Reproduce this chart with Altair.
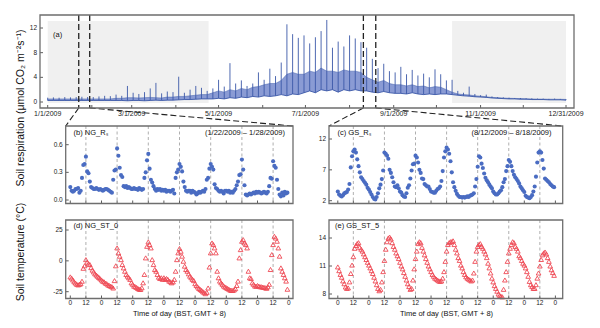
import altair as alt
import pandas as pd

W, H = 600, 328
FONT = "Liberation Sans"
TS = 3
FRAME = "#6e6e6e"
TICK = "#333333"
LABEL = "#222222"
BLUE_DOT = "#4a6cc2"
BLUE_LINE = "#3b58a8"
BLUE_BAND = "#7d90cf"
RED = "#ee4a55"

# ---------------- data: panel (a), annual soil respiration (4-day envelope) ----------------
a_day = list(range(0, 365, 4))
a_low = [0.25] * 12 + [0.25, 0.25, 0.2, 0.25, 0.25, 0.2, 0.25, 0.3, 0.25, 0.3, 0.3, 0.35, 0.4] + \
        [0.4, 0.45, 0.5, 0.5] + \
        [0.5, 0.6, 0.5, 0.7, 0.6, 0.8, 0.7, 0.9, 0.8, 1.0, 0.9, 1.0, 1.2, 1.0, 1.3, 1.2] + \
        [1.5, 1.8, 1.5, 2.0, 1.8, 2.0, 1.6, 2.0, 1.8, 2.0, 1.8] + \
        [1.8, 1.6, 1.5, 1.7, 1.5, 1.4] + \
        [1.4, 1.3, 1.5, 1.3, 1.2, 1.3, 1.2, 1.3, 1.3] + \
        [1.2, 1.1, 1.0, 0.95, 0.85] + \
        [0.8, 0.75, 0.65, 0.6, 0.55, 0.5, 0.5, 0.45, 0.45, 0.4, 0.4, 0.4, 0.35, 0.35, 0.35, 0.3]
a_mid = [0.5] * 12 + [0.6, 0.6, 0.7, 0.7, 0.65, 0.7, 0.75, 0.7, 0.65, 0.8, 0.8, 0.9, 0.9] + \
        [1.0, 1.1, 1.2, 1.2] + \
        [1.5, 1.8, 1.6, 2.0, 1.8, 2.2, 2.0, 2.4, 2.5, 2.8, 3.0, 3.0, 3.5, 4.5, 4.8, 4.5] + \
        [4.5, 5.0, 4.8, 5.5, 5.0, 5.0, 4.8, 5.2, 5.0, 5.0, 4.8] + \
        [4.0, 3.6, 3.2, 3.5, 3.0, 2.8] + \
        [2.8, 2.6, 2.8, 2.5, 2.6, 2.3, 2.5, 2.4, 2.0] + \
        [1.6, 1.3, 1.2, 1.15, 1.0] + \
        [0.95, 0.85, 0.75, 0.7, 0.65, 0.6, 0.58, 0.55, 0.52, 0.5, 0.48, 0.47, 0.45, 0.45, 0.44, 0.42]
a_high = [0.7, 0.75, 0.7, 0.8, 0.75, 0.8, 0.85, 0.8, 0.8, 0.9, 1.0, 0.95] + \
         [1.2, 1.0, 2.6, 1.5, 1.3, 1.6, 2.2, 3.1, 1.4, 1.7, 1.6, 4.1, 1.5] + \
         [2.0, 2.6, 2.3, 1.8] + \
         [2.2, 3.6, 2.5, 6.3, 3.0, 3.5, 2.6, 3.0, 4.8, 3.6, 5.4, 4.2, 6.4, 12.6, 11.0, 10.4] + \
         [10.8, 9.5, 10.5, 11.5, 13.3, 8.8, 9.8, 9.0, 10.8, 10.3, 9.7] + \
         [8.8, 7.0, 5.5, 6.2, 5.0, 4.8] + \
         [5.7, 4.5, 5.2, 4.3, 4.6, 4.0, 5.3, 4.5, 3.5] + \
         [3.6, 1.8, 1.5, 2.5, 1.3] + \
         [1.1, 1.2, 0.9, 0.8, 0.75, 0.7, 0.65, 0.65, 0.6, 0.6, 0.55, 0.55, 0.5, 0.55, 0.5, 0.45]
shade_start = [0, 284]
shade_end = [113, 364]
zoom_days = [21.8, 29.5, 221.7, 230.4]
month_days = [0, 31, 59, 90, 120, 151, 181, 212, 243, 273, 304, 334, 364]
month_labels = ["1/1/2009", "", "3/1/2009", "", "5/1/2009", "", "7/1/2009", "",
                "9/1/2009", "", "11/1/2009", "", "12/31/2009"]
a_yticks = [0, 4, 8, 12]

# ---------------- data: hourly panels (b)-(e), 7 days x 24 h ----------------
hours = list(range(168))
noon_hours = list(range(12, 168, 24))
hour_ticks = list(range(0, 169, 12))
hour_labels = ["0" if h % 24 == 0 else "12" for h in hour_ticks]

ng_rs = [0.14, 0.10, 0.09, 0.10, 0.12, 0.12, 0.13, 0.08, 0.10, 0.24, 0.38, 0.39, 0.47, 0.31, 0.29, 0.20, 0.14, 0.13, 0.12, 0.12, 0.13, 0.12, 0.11, 0.12] + \
        [0.11, 0.10, 0.11, 0.12, 0.12, 0.11, 0.10, 0.09, 0.08, 0.22, 0.32, 0.33, 0.56, 0.48, 0.35, 0.27, 0.25, 0.15, 0.14, 0.15, 0.13, 0.14, 0.13, 0.12] + \
        [0.12, 0.13, 0.12, 0.12, 0.11, 0.13, 0.12, 0.11, 0.12, 0.24, 0.30, 0.43, 0.50, 0.34, 0.22, 0.19, 0.15, 0.12, 0.10, 0.12, 0.11, 0.12, 0.10, 0.11] + \
        [0.10, 0.11, 0.09, 0.10, 0.10, 0.09, 0.10, 0.11, 0.07, 0.24, 0.30, 0.33, 0.39, 0.36, 0.31, 0.20, 0.14, 0.10, 0.09, 0.10, 0.10, 0.08, 0.10, 0.09] + \
        [0.08, 0.06, 0.07, 0.09, 0.08, 0.09, 0.10, 0.09, 0.12, 0.22, 0.24, 0.34, 0.39, 0.36, 0.33, 0.17, 0.13, 0.12, 0.10, 0.09, 0.10, 0.09, 0.07, 0.10] + \
        [0.10, 0.09, 0.10, 0.08, 0.09, 0.08, 0.10, 0.12, 0.16, 0.20, 0.27, 0.28, 0.44, 0.33, 0.16, 0.06, 0.05, 0.06, 0.07, 0.06, 0.07, 0.08, 0.07, 0.09] + \
        [0.08, 0.09, 0.08, 0.07, 0.08, 0.09, 0.08, 0.07, 0.09, 0.15, 0.24, 0.23, 0.42, 0.37, 0.35, 0.22, 0.12, 0.06, 0.04, 0.08, 0.05, 0.09, 0.07, 0.08]

gs_rs = [3.5, 3.0, 2.8, 2.7, 2.9, 3.2, 3.3, 3.4, 3.8, 4.7, 7.4, 9.2, 10.0, 10.3, 9.8, 8.7, 7.6, 6.6, 5.8, 5.5, 5.2, 4.9, 4.6, 4.1] + \
        [3.8, 3.4, 3.0, 2.6, 2.3, 2.2, 2.6, 3.2, 4.0, 4.6, 5.5, 6.9, 9.8, 9.6, 9.3, 8.8, 7.0, 6.5, 5.8, 5.0, 4.3, 4.2, 4.5, 4.0] + \
        [3.5, 3.3, 2.9, 2.7, 2.6, 3.2, 4.1, 4.5, 5.6, 6.9, 7.9, 8.0, 9.3, 9.0, 8.2, 7.0, 6.5, 5.6, 5.5, 4.7, 4.5, 4.3, 4.3, 3.9] + \
        [3.5, 3.4, 3.3, 3.3, 3.6, 3.9, 4.0, 4.3, 5.2, 6.8, 9.0, 10.0, 10.6, 10.3, 9.6, 8.4, 6.6, 5.0, 4.2, 3.6, 3.1, 2.8, 2.6, 2.6] + \
        [2.5, 2.6, 2.5, 2.6, 2.7, 2.6, 2.8, 2.9, 3.0, 3.2, 4.3, 5.5, 7.5, 9.2, 9.0, 8.0, 7.3, 6.4, 5.7, 5.3, 5.0, 4.6, 4.3, 4.0] + \
        [3.5, 3.2, 3.0, 3.0, 3.2, 3.5, 3.7, 4.2, 5.0, 5.5, 6.8, 7.6, 8.6, 8.3, 7.6, 6.8, 6.2, 5.8, 5.5, 5.2, 4.8, 4.3, 4.0, 3.7] + \
        [3.4, 2.8, 2.6, 2.5, 2.4, 2.6, 2.9, 3.5, 4.3, 5.9, 8.2, 9.8, 10.0, 9.8, 8.6, 7.2, 5.6, 5.4, 5.2, 5.0, 4.7, 4.5, 4.3, 4.2]

ng_st0 = [-13, -14, -15.5, -17, -18, -19, -19.5, -19, -18.5, -16.5, -6, -4, 1, -1, -2.5, -3, -5.5, -7.5, -9, -10.5, -11.5, -12.5, -13.5, -14.5] + \
         [-15.5, -16.5, -17, -18, -18.5, -19.5, -20, -20.5, -21, -22, -16, -4, 10.5, 6.5, 3.8, 1, -3, -5.7, -8.4, -11, -12.4, -13.7, -15, -17.8] + \
         [-19, -20.5, -21, -21.6, -22.4, -23, -23.2, -21.8, -17.8, -11, 2.4, 11.8, 15.4, 13.2, 10.5, 1, -3, -7, -8.4, -11, -13.2, -14.3, -13.7, -15] + \
         [-13.7, -15, -14.3, -15, -16.4, -17, -17.8, -17, -15, -8.4, 1, 6.5, 10, 7.8, 3.8, -0.3, -4.3, -7, -8.4, -10.5, -12.4, -13.7, -15, -16] + \
         [-18.5, -20, -21.2, -22.4, -23.2, -24, -25, -25.8, -26.6, -25.5, -22, -5, 6.5, 14.5, 13.2, 10.5, 6.5, -8.4, -13.7, -16.4, -17.8, -19, -20.4, -21.2] + \
         [-21.8, -22.4, -23, -23.7, -24, -24, -23.5, -22.5, -20, -16.4, 2.4, 9.1, 15.9, 17.2, 14.5, 13.2, 10.5, -8.4, -13.7, -14.3, -17.8, -19, -20.4, -20.6] + \
         [-20, -20.5, -21, -21, -21.3, -21.5, -21.8, -22.2, -21, -19, -7, 5.1, 13.2, 19.9, 18.5, 15.9, 10.5, 3.8, -5.7, -8.4, -11, -13.7, -16.4, -23]

gs_st5 = [10.9, 10.5, 10.1, 9.8, 9.4, 9.1, 8.75, 8.6, 8.65, 9.3, 10.2, 11.1, 12.0, 12.9, 13.2, 13.4, 13.5, 13.0, 12.8, 12.6, 12.3, 12.0, 11.7, 11.4] + \
         [11.1, 10.8, 10.5, 10.2, 9.8, 9.4, 9.0, 8.6, 8.35, 8.5, 9.3, 10.4, 11.6, 12.8, 13.6, 14.0, 14.1, 13.9, 13.5, 13.1, 12.8, 12.4, 12.1, 11.8] + \
         [11.4, 11.0, 10.7, 10.3, 9.9, 9.5, 9.1, 8.8, 8.5, 8.6, 9.5, 10.7, 11.8, 12.6, 13.4, 13.6, 13.5, 13.0, 12.6, 12.2, 11.8, 11.4, 11.0, 10.7] + \
         [10.4, 10.1, 9.9, 9.7, 9.6, 9.5, 9.4, 9.35, 9.4, 9.7, 10.4, 11.5, 12.6, 13.3, 13.5, 13.6, 13.6, 13.7, 13.3, 12.8, 12.4, 11.9, 11.6, 11.1] + \
         [10.8, 10.4, 10.1, 9.85, 9.7, 9.6, 9.5, 9.4, 9.5, 10.25, 11.5, 12.6, 13.1, 13.3, 13.4, 13.1, 12.9, 12.6, 12.3, 11.9, 11.3, 10.8, 10.25, 9.7] + \
         [9.3, 8.9, 8.6, 8.3, 8.0, 7.85, 7.75, 7.7, 8.5, 9.5, 10.4, 11.5, 12.4, 12.9, 13.3, 13.6, 13.5, 13.1, 12.9, 12.6, 12.1, 11.9, 11.6, 11.3] + \
         [11.1, 10.8, 10.4, 9.9, 9.35, 9.0, 8.8, 8.6, 8.6, 9.0, 9.7, 10.25, 11.0, 11.7, 12.2, 12.4, 12.5, 12.3, 11.9, 11.5, 11.0, 10.6, 10.3, 10.0]

# ---------------- layout (pixels) ----------------
FA = dict(x0=40, x1=574, y0=15, y1=108)
FB = dict(x0=65.7, x1=293, y0=126, y1=203.5)
FC = dict(x0=329, x1=562.7, y0=126, y1=203.5)
FD = dict(x0=65.7, x1=293, y0=220, y1=298.5)
FE = dict(x0=329, x1=562.7, y0=220, y1=298.5)
XR_L = [70.3, 288.7]
XR_R = [337.8, 555.4]

ONE = alt.Data(values=[{}])


def frame(f):
    return alt.Chart(ONE).mark_rect(fillOpacity=0, stroke=FRAME, strokeWidth=1.3).encode(
        x=alt.value(f["x0"]), x2=alt.value(f["x1"]), y=alt.value(f["y0"]), y2=alt.value(f["y1"]))


def text(s, x, y, size=7.5, align="left", angle=0):
    kw = dict(text=s, font=FONT, fontSize=size, align=align, baseline="middle", color="#111111")
    if angle:
        kw["angle"] = angle
    return alt.Chart(ONE).mark_text(**kw).encode(x=alt.value(x), y=alt.value(y))


def x_ticks(f, xs, values, labels, size):
    df = pd.DataFrame({"t": values, "lab": labels})
    ticks = alt.Chart(df).mark_rule(color=TICK, strokeWidth=0.8).encode(
        x=alt.X("t:Q", scale=xs, axis=None), y=alt.value(f["y1"] - TS), y2=alt.value(f["y1"]))
    out = [ticks]
    if size:
        out.append(alt.Chart(df).mark_text(font=FONT, fontSize=size, baseline="top", align="center",
                                           color=LABEL).encode(
            x=alt.X("t:Q", scale=xs, axis=None), y=alt.value(f["y1"] + 1.5), text="lab:N"))
    return out


def y_ticks(f, ys, values, labels):
    df = pd.DataFrame({"t": values, "lab": labels})
    ticks = alt.Chart(df).mark_rule(color=TICK, strokeWidth=0.8).encode(
        y=alt.Y("t:Q", scale=ys, axis=None), x=alt.value(f["x0"]), x2=alt.value(f["x0"] + TS))
    labs = alt.Chart(df).mark_text(font=FONT, fontSize=6.5, baseline="middle", align="right",
                                   color=LABEL).encode(
        y=alt.Y("t:Q", scale=ys, axis=None), x=alt.value(f["x0"] - 3), text="lab:N")
    return [ticks, labs]


# ---------------- panel (a) ----------------
xs_a = alt.Scale(domain=[0, 364], range=[47.7, 566], nice=False, zero=False)
ys_a = alt.Scale(domain=[0, 12], range=[102, 28], nice=False, zero=False)

a_df = pd.DataFrame({"day": a_day, "low": a_low, "mid": a_mid, "high": a_high})
shade_df = pd.DataFrame({"s": shade_start, "e": shade_end})
zd_df = pd.DataFrame({"zd": zoom_days})

shade = alt.Chart(shade_df).mark_rect(color="#f0f0f0").encode(
    x=alt.X("s:Q", scale=xs_a, axis=None), x2="e:Q", y=alt.value(21), y2=alt.value(103))
band = alt.Chart(a_df).mark_area(color=BLUE_BAND, opacity=0.9).encode(
    x=alt.X("day:Q", scale=xs_a, axis=None), y=alt.Y("low:Q", scale=ys_a, axis=None), y2="mid:Q")
spikes = alt.Chart(a_df).mark_rule(color=BLUE_LINE, strokeWidth=0.9).encode(
    x=alt.X("day:Q", scale=xs_a, axis=None), y=alt.Y("low:Q", scale=ys_a, axis=None), y2="high:Q")
base = alt.Chart(a_df).mark_line(color=BLUE_LINE, strokeWidth=0.9).encode(
    x=alt.X("day:Q", scale=xs_a, axis=None), y=alt.Y("low:Q", scale=ys_a, axis=None))
topl = alt.Chart(a_df).mark_line(color=BLUE_LINE, strokeWidth=0.6, opacity=0.8).encode(
    x=alt.X("day:Q", scale=xs_a, axis=None), y=alt.Y("mid:Q", scale=ys_a, axis=None))
zlines = alt.Chart(zd_df).mark_rule(color="#222222", strokeDash=[6, 3], strokeWidth=1.3).encode(
    x=alt.X("zd:Q", scale=xs_a, axis=None), y=alt.value(FA["y0"]), y2=alt.value(FA["y1"]))
corners = [(FB["x0"], FB["y0"]), (FB["x1"], FB["y0"]), (FC["x0"], FC["y0"]), (FC["x1"], FC["y0"])]
conn = []
for zd, (cx, cy) in zip(zoom_days, corners):
    conn.append(alt.Chart(ONE).mark_rule(color="#222222", strokeDash=[6, 3], strokeWidth=1.1).encode(
        x=alt.X(datum=zd, scale=xs_a, axis=None), y=alt.value(FA["y1"]), x2=alt.value(cx), y2=alt.value(cy)))

panel_a = alt.layer(
    shade, band, spikes, base, topl, zlines, *conn,
    *x_ticks(FA, xs_a, month_days, month_labels, 7),
    *y_ticks(FA, ys_a, a_yticks, [str(v) for v in a_yticks]),
    frame(FA), text("(a)", 53, 35, 7.5))


# ---------------- panels (b)-(e) ----------------
def hourly(vals, f, xr, ydom, yr, yticks, ylabels, mark, show_x):
    xs = alt.Scale(domain=[0, 168], range=xr, nice=False, zero=False)
    ys = alt.Scale(domain=ydom, range=yr, nice=False, zero=False)
    df = pd.DataFrame({"h": hours, "v": vals})
    noon = alt.Chart(pd.DataFrame({"n": noon_hours})).mark_rule(
        color="#9a9a9a", strokeDash=[3, 2.5], strokeWidth=0.8).encode(
        x=alt.X("n:Q", scale=xs, axis=None), y=alt.value(f["y0"]), y2=alt.value(f["y1"]))
    if mark == "dot":
        pts = alt.Chart(df).mark_point(filled=True, shape="circle", size=17, color=BLUE_DOT, opacity=1)
    else:
        pts = alt.Chart(df).mark_point(filled=False, shape="triangle-up", size=22, color=RED,
                                       strokeWidth=0.9, opacity=1)
    pts = pts.encode(x=alt.X("h:Q", scale=xs, axis=None), y=alt.Y("v:Q", scale=ys, axis=None))
    return alt.layer(noon, pts,
                     *x_ticks(f, xs, hour_ticks, hour_labels, 6.5 if show_x else 0),
                     *y_ticks(f, ys, yticks, ylabels), frame(f))


panel_b = hourly(ng_rs, FB, XR_L, [0, 0.6], [200, 144.7], [0, 0.3, 0.6], ["0.0", "0.3", "0.6"], "dot", False)
panel_c = hourly(gs_rs, FC, XR_R, [2, 12], [200.7, 139], [2, 7, 12], ["2", "7", "12"], "dot", False)
panel_d = hourly(ng_st0, FD, XR_L, [-25, 25], [291.7, 230], [-25, 0, 25], ["-25", "0", "25"], "tri", True)
panel_e = hourly(gs_st5, FE, XR_R, [8, 14], [294, 238], [8, 11, 14], ["8", "11", "14"], "tri", True)

labels = [
    text("(b) NG_R\u209b", 73.5, 132.5, 7.5),
    text("(1/22/2009 \u2013 1/28/2009)", 285, 132.5, 7.5, align="right"),
    text("(c) GS_R\u209b", 337.5, 132.5, 7.5),
    text("(8/12/2009 \u2013 8/18/2009)", 551.5, 132.5, 7.5, align="right"),
    text("(d) NG_ST_0", 73.5, 225.5, 7.5),
    text("(e) GS_ST_5", 335, 225.5, 7.5),
    text("Time of day (BST, GMT + 8)", 179.5, 313.5, 7.5, align="center"),
    text("Time of day (BST, GMT + 8)", 446.5, 313.5, 7.5, align="center"),
    text("Soil respiration (\u03bcmol CO\u2082 m\u207b\u00b2s\u207b\u00b9)", 21, 108, 10.5, align="center", angle=270),
    text("Soil temperature (\u00b0C)", 21, 252, 10.5, align="center", angle=270),
]

chart = alt.layer(panel_a, panel_b, panel_c, panel_d, panel_e, *labels).resolve_scale(
    x="independent", y="independent").properties(
    width=W, height=H, autosize=alt.AutoSizeParams(type="none"), padding=0,
    background="white").configure_view(stroke=None)

chart.save("out.html", embed_options={"renderer": "svg", "actions": False})
